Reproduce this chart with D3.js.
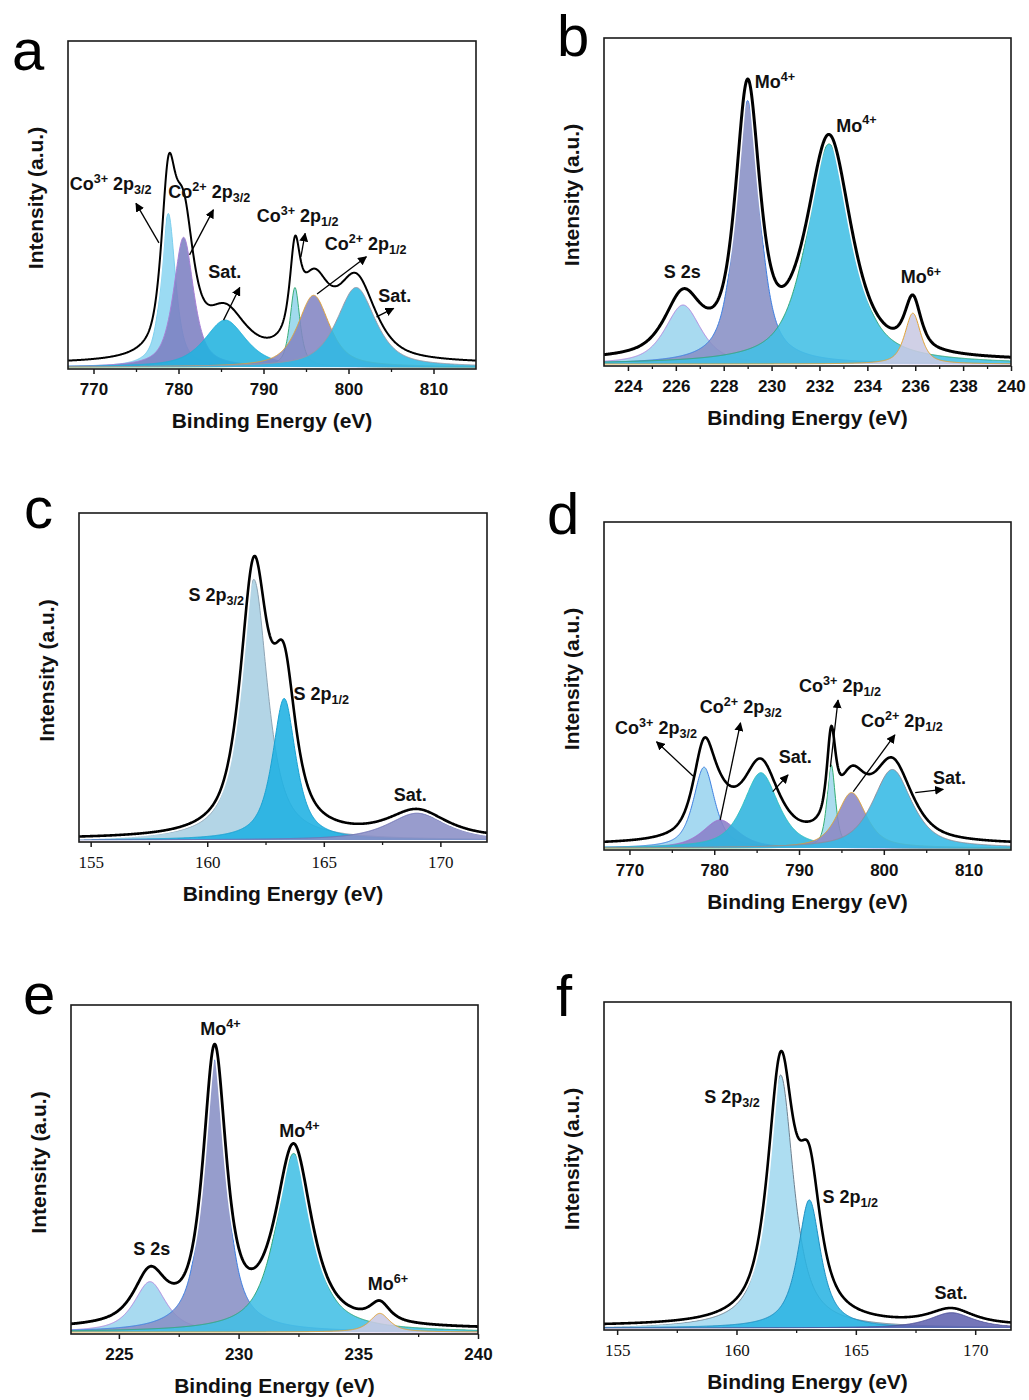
<!DOCTYPE html>
<html>
<head>
<meta charset="utf-8">
<script src="https://cdn.jsdelivr.net/npm/d3@7"></script>
<style>
  body { margin: 0; background: #fff; }
  svg { display: block; }
  text { white-space: pre; }
</style>
</head>
<body>
<svg id="fig" width="1029" height="1400"></svg>
<script>
// ---------- data (peak centre eV, height in % of frame, FWHM eV) ----------

// a: Co 2p
const aDomain = [767, 815]
const aTicks = [770, 780, 790, 800, 810]
const aMinor = [775, 785, 795, 805]
const aCenter = [778.8, 780.6, 785.5, 793.7, 795.9, 800.9]
const aHeight = [47.1, 39.8, 14.4, 24.4, 22.0, 24.4]
const aFwhm = [2.0, 2.8, 5.8, 1.4, 4.4, 5.4]
const aLabels = ['Co^{3+} 2p_{3/2}', 'Co^{2+} 2p_{3/2}', 'Sat.', 'Co^{3+} 2p_{1/2}', 'Co^{2+} 2p_{1/2}', 'Sat.']

// b: Mo 3d + S 2s
const bDomain = [223, 240]
const bTicks = [224, 226, 228, 230, 232, 234, 236, 238, 240]
const bMinor = [225, 227, 229, 231, 233, 235, 237, 239]
const bCenter = [226.3, 229.0, 232.4, 235.9]
const bHeight = [18.1, 80.8, 67.5, 15.6]
const bFwhm = [1.8, 1.2, 2.2, 0.8]
const bLabels = ['Mo^{4+}', 'Mo^{4+}', 'S 2s', 'Mo^{6+}']

// c: S 2p
const cDomain = [154.5, 172]
const cTicks = [155, 160, 165, 170]
const cMinor = [157.5, 162.5, 167.5]
const cCenter = [162.0, 163.3, 169.0]
const cHeight = [79.7, 43.3, 8.2]
const cFwhm = [1.4, 1.2, 3.0]
const cLabels = ['S 2p_{3/2}', 'S 2p_{1/2}', 'Sat.']

// d: Co 2p
const dDomain = [767, 815]
const dTicks = [770, 780, 790, 800, 810]
const dMinor = [775, 785, 795, 805]
const dCenter = [778.8, 780.7, 785.5, 793.8, 796.2, 801.0]
const dHeight = [24.8, 8.6, 23.1, 25.5, 17.0, 24.1]
const dFwhm = [3.0, 5.0, 4.9, 1.2, 4.1, 5.5]
const dLabels = ['Co^{3+} 2p_{3/2}', 'Co^{2+} 2p_{3/2}', 'Co^{3+} 2p_{1/2}', 'Co^{2+} 2p_{1/2}', 'Sat.', 'Sat.']

// e: Mo 3d + S 2s
const eDomain = [223, 240]
const eTicks = [225, 230, 235, 240]
const eMinor = [227.5, 232.5, 237.5]
const eCenter = [226.3, 229.0, 232.3, 235.9]
const eHeight = [15.4, 83.2, 54.6, 5.7]
const eFwhm = [1.6, 1.15, 1.8, 1.0]
const eLabels = ['Mo^{4+}', 'Mo^{4+}', 'S 2s', 'Mo^{6+}']

// f: S 2p
const fDomain = [154.45, 171.5]
const fTicks = [155, 160, 165, 170]
const fMinor = [157.5, 162.5, 167.5]
const fCenter = [161.85, 163.05, 169.0]
const fHeight = [77.6, 39.3, 4.7]
const fFwhm = [1.3, 1.15, 2.2]
const fLabels = ['S 2p_{3/2}', 'S 2p_{1/2}', 'Sat.']

// Lorentzian fraction of the fitted line shape and flat background under the raw trace
const lorentz = { a: 0.7, b: 0.7, c: 0.8, d: 0.7, e: 0.8, f: 0.85 }
const background = { a: 1.0, b: 0.8, c: 0.3, d: 1.0, e: 0.8, f: 0.6 }

// ---------- layout / styling ----------
const frames = {
    a: [68, 41, 408, 328], b: [604, 38, 407, 328],
    c: [79, 513, 408, 329], d: [604, 522, 407, 328],
    e: [71, 1005, 407, 329], f: [604, 1002, 407, 328]
}
const letterPos = { a: [12, 70], b: [557, 56], c: [24, 528], d: [547, 534], e: [23, 1014], f: [556, 1016] }

const coFillA = ['#8dd6f1', '#7c7fc1', '#22b3df', '#94d5ea', '#8385c3', '#2fb9e4']
const coLineA = ['#7ccfee', '#a77fd6', '#20b0d8', '#3aae7a', '#e0a23a', '#9a9aa8']
const coFillD = ['#9ad4ef', '#8a80c8', '#2db4de', '#9fd7ec', '#8b88c4', '#36bae5']
const coLineD = ['#3d7fe0', '#a070d0', '#2cc0c0', '#32ae72', '#e0a232', '#8e8e9a']
const moFill = ['#9cd5ee', '#8890c5', '#42bfe5', '#c9cae3']
const moLine = ['#b08ae0', '#3d7fe2', '#2fa778', '#e2a232']
const sFillC = ['#a9cfe3', '#1eb0e2', '#8a8ec6']
const sLineC = ['#8fa5b5', '#1aa2d2', '#6f72b4']
const sFillF = ['#a2d8ef', '#2ab4e3', '#6163af']
const sLineF = ['#6f8190', '#2090c2', '#4d4f98']

// annotation anchors in data units (x in eV, y in % of frame)
const aLabelPos = [[767.2, 54.3], [778.8, 51.8], [783.5, 27.3], [789.2, 44.5], [797.2, 35.9], [803.5, 19.9]]
const aArrows = [[777.7, 38.1, 775.0, 50.2], [781.3, 34.4, 784.1, 48.2], [785.3, 14.4, 787.2, 24.4],
    [794.4, 33.8, 794.9, 41.0], [796.3, 22.4, 802.1, 33.8], [803.3, 15.4, 805.3, 18.0]]
const bLabelPos = [[229.3, 84.6], [232.7, 71.3], [225.5, 26.3], [235.4, 24.8]]
const cLabelPos = [[159.2, 73.2], [163.7, 42.8], [168.0, 12.0]]
const dLabelPos = [[768.3, 35.0], [778.3, 41.3], [790.0, 47.9], [797.3, 37.2], [787.6, 26.0], [805.8, 19.6]]
const dArrows = [[777.5, 22.1, 773.2, 32.6], [780.7, 8.6, 783.1, 38.4], [786.9, 17.3, 788.7, 22.4],
    [793.7, 24.9, 794.6, 45.4], [796.4, 17.3, 801.3, 34.7], [803.7, 17.0, 807.0, 18.0]]
const eLabelPos = [[228.4, 90.8], [231.7, 59.7], [225.6, 23.5], [235.4, 12.8]]
const fLabelPos = [[158.65, 68.9], [163.6, 38.4], [168.3, 8.8]]

const SANS = '"Liberation Sans", Arial, sans-serif'
const SERIF = '"Liberation Serif", "Times New Roman", serif'

const svg = d3.select('#fig')

svg.append('defs').append('marker')
    .attr('id', 'arrow')
    .attr('viewBox', '0 0 10 10')
    .attr('refX', 9).attr('refY', 5)
    .attr('markerWidth', 9).attr('markerHeight', 9)
    .attr('markerUnits', 'userSpaceOnUse')
    .attr('orient', 'auto')
    .append('path').attr('d', 'M0,0 L10,5 L0,10 z').attr('fill', '#000')

// fitted line shape (pseudo-Voigt) for one component
const shape = (e, c, h, w, eta) => {
    const t = 4 * ((e - c) / w) ** 2
    return h * (eta / (1 + t) + (1 - eta) * Math.exp(-Math.LN2 * t))
}

// text with ^{sup} and _{sub}
function richText(sel, str, size) {
    const parts = str.split(/(\^\{[^}]*\}|_\{[^}]*\})/).filter(s => s)
    let shift = 0
    parts.forEach(s => {
        let txt = s, fs = size, target = 0
        if (s[0] === '^') { txt = s.slice(2, -1); fs = size * 0.7; target = -size * 0.4 }
        else if (s[0] === '_') { txt = s.slice(2, -1); fs = size * 0.7; target = size * 0.22 }
        sel.append('tspan').attr('dy', target - shift).attr('font-size', fs).text(txt)
        shift = target
    })
}

function drawPanel(id, p) {
    const [left, top, w, h] = frames[id]
    const g = svg.append('g').attr('transform', `translate(${left},${top})`)
    const x = d3.scaleLinear().domain(p.domain).range([0, w])
    const y = d3.scaleLinear().domain([-0.6, 100]).range([h, 0])
    const eta = lorentz[id]

    g.append('clipPath').attr('id', 'clip-' + id)
        .append('rect').attr('width', w).attr('height', h)
    const plot = g.append('g').attr('clip-path', `url(#clip-${id})`)

    // evaluation grid for the fitted curves
    const grid = d3.range(0, 801).map(i => p.domain[0] + (p.domain[1] - p.domain[0]) * i / 800)

    const area = d3.area().x(d => x(d[0])).y0(y(0)).y1(d => y(d[1]))
    const line = d3.line().x(d => x(d[0])).y(d => y(d[1]))

    p.center.forEach((c, i) => {
        const pts = grid.map(e => [e, shape(e, c, p.height[i], p.fwhm[i], eta)])
        plot.append('path').datum(pts)
            .attr('d', area)
            .attr('fill', p.fill[i])
            .attr('fill-opacity', 0.88)
        plot.append('path').datum(pts)
            .attr('d', line)
            .attr('fill', 'none')
            .attr('stroke', p.stroke[i])
            .attr('stroke-width', 1)
    })

    const total = grid.map(e => [e, background[id] + d3.sum(p.center, (c, i) => shape(e, c, p.height[i], p.fwhm[i], eta))])
    plot.append('path').datum(total)
        .attr('d', line)
        .attr('fill', 'none')
        .attr('stroke', '#fff')
        .attr('stroke-width', 6)
    plot.append('path').datum(total)
        .attr('d', line)
        .attr('fill', 'none')
        .attr('stroke', '#000')
        .attr('stroke-width', p.lineWidth)
        .attr('stroke-linejoin', 'round')

    // frame
    g.append('rect').attr('width', w).attr('height', h)
        .attr('fill', 'none').attr('stroke', '#1a1a1a').attr('stroke-width', 1.6)

    // x axis
    const xAxis = g.append('g').attr('transform', `translate(0,${h})`)
        .call(d3.axisBottom(x).tickValues(p.ticks).tickSize(5).tickPadding(9).tickFormat(d3.format('d')))
    xAxis.select('.domain').remove()
    xAxis.selectAll('line').attr('stroke', '#1a1a1a').attr('stroke-width', 1.5)
    xAxis.selectAll('text')
        .attr('fill', '#111')
        .attr('font-family', p.serif ? SERIF : SANS)
        .attr('font-weight', p.serif ? 'normal' : 'bold')
        .attr('font-size', 17)
    const minor = g.append('g').attr('transform', `translate(0,${h})`)
        .call(d3.axisBottom(x).tickValues(p.minor).tickSize(3).tickFormat(''))
    minor.select('.domain').remove()
    minor.selectAll('line').attr('stroke', '#1a1a1a').attr('stroke-width', 1.3)

    g.append('text')
        .attr('x', w / 2).attr('y', h + 51)
        .attr('dy', '0.36em')
        .attr('text-anchor', 'middle')
        .attr('font-family', SANS).attr('font-weight', 'bold').attr('font-size', 21)
        .attr('fill', '#111')
        .text('Binding Energy (eV)')
    g.append('text')
        .attr('transform', `translate(-33,${h / 2 - 7}) rotate(-90)`)
        .attr('dy', '0.36em')
        .attr('text-anchor', 'middle')
        .attr('font-family', SANS).attr('font-weight', 'bold').attr('font-size', 21)
        .attr('fill', '#111')
        .text('Intensity (a.u.)')

    // peak labels
    p.labels.forEach((lab, i) => {
        const t = g.append('text')
            .attr('x', x(p.labelPos[i][0])).attr('y', y(p.labelPos[i][1]))
            .attr('font-family', SANS).attr('font-weight', 'bold').attr('font-size', 18)
            .attr('fill', '#111')
        richText(t, lab, 18)
    })

    // arrows
    ;(p.arrows || []).forEach(a => {
        g.append('line')
            .attr('x1', x(a[0])).attr('y1', y(a[1]))
            .attr('x2', x(a[2])).attr('y2', y(a[3]))
            .attr('stroke', '#000').attr('stroke-width', 1.3)
            .attr('marker-end', 'url(#arrow)')
    })

    // panel letter
    svg.append('text')
        .attr('x', letterPos[id][0]).attr('y', letterPos[id][1])
        .attr('font-family', SANS).attr('font-size', 58)
        .attr('fill', '#000')
        .text(id)
}

drawPanel('a', { domain: aDomain, ticks: aTicks, minor: aMinor, center: aCenter, height: aHeight, fwhm: aFwhm,
    fill: coFillA, stroke: coLineA, labels: aLabels, labelPos: aLabelPos, arrows: aArrows, lineWidth: 2 })
drawPanel('b', { domain: bDomain, ticks: bTicks, minor: bMinor, center: bCenter, height: bHeight, fwhm: bFwhm,
    fill: moFill, stroke: moLine, labels: bLabels, labelPos: bLabelPos, lineWidth: 3 })
drawPanel('c', { domain: cDomain, ticks: cTicks, minor: cMinor, center: cCenter, height: cHeight, fwhm: cFwhm,
    fill: sFillC, stroke: sLineC, labels: cLabels, labelPos: cLabelPos, lineWidth: 2.6, serif: true })
drawPanel('d', { domain: dDomain, ticks: dTicks, minor: dMinor, center: dCenter, height: dHeight, fwhm: dFwhm,
    fill: coFillD, stroke: coLineD, labels: dLabels, labelPos: dLabelPos, arrows: dArrows, lineWidth: 2.6 })
drawPanel('e', { domain: eDomain, ticks: eTicks, minor: eMinor, center: eCenter, height: eHeight, fwhm: eFwhm,
    fill: moFill, stroke: moLine, labels: eLabels, labelPos: eLabelPos, lineWidth: 2.8 })
drawPanel('f', { domain: fDomain, ticks: fTicks, minor: fMinor, center: fCenter, height: fHeight, fwhm: fFwhm,
    fill: sFillF, stroke: sLineF, labels: fLabels, labelPos: fLabelPos, lineWidth: 2.6, serif: true })
</script>
</body>
</html>
